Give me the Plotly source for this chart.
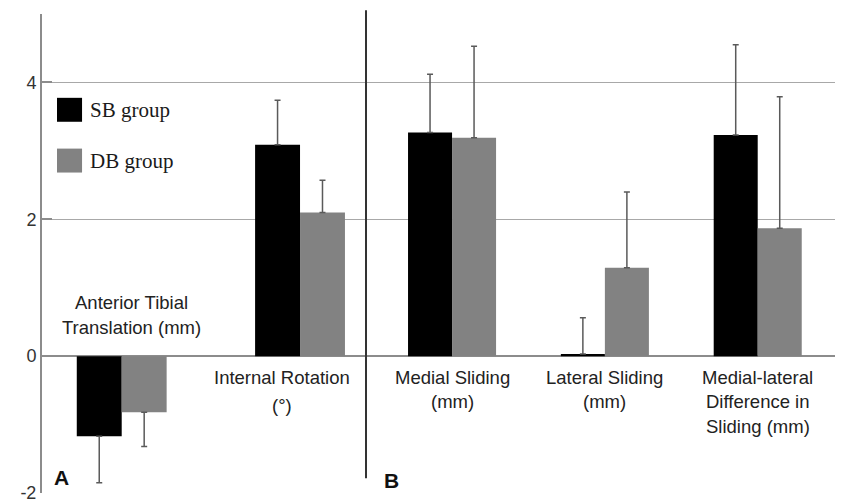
import plotly.graph_objects as go

# ---- data ----
panel_a_categories = ["Anterior Tibial Translation (mm)", "Internal Rotation (°)"]
panel_b_categories = ["Medial Sliding (mm)", "Lateral Sliding (mm)",
                      "Medial-lateral Difference in Sliding (mm)"]
panel_a_lines = [["Anterior Tibial", "Translation (mm)"], ["Internal Rotation", "(°)"]]
panel_b_lines = [["Medial Sliding", "(mm)"], ["Lateral Sliding", "(mm)"],
                 ["Medial-lateral", "Difference in", "Sliding (mm)"]]

series_names = ["SB group", "DB group"]
sb_a = [-1.17, 3.09]
sb_a_err = [0.68, 0.65]
db_a = [-0.82, 2.10]
db_a_err = [0.50, 0.47]
sb_b = [3.27, 0.03, 3.23]
sb_b_err = [0.85, 0.53, 1.32]
db_b = [3.19, 1.29, 1.87]
db_b_err = [1.34, 1.11, 1.92]

y_tick_values = [-2, 0, 2, 4]
panel_letters = ["A", "B"]

# ---- styling ----
SB_COLOR = "#000000"
DB_COLOR = "#828282"
ERR_COLOR = "#5a5a5a"
AXIS_GRAY = "#8c8c8c"
SANS = "Liberation Sans, Arial, sans-serif"
SERIF = "Liberation Serif, Times New Roman, serif"
LABEL_SIZE = 18.5


def one_sided(values, errs):
    up = [e if v >= 0 else 0 for v, e in zip(values, errs)]
    down = [e if v < 0 else 0 for v, e in zip(values, errs)]
    return up, down


fig = go.Figure()


def add_pair(cats, sb, sb_err, db, db_err, xaxis, w):
    for vals, errs, color, name, off in [
        (sb, sb_err, SB_COLOR, series_names[0], -w),
        (db, db_err, DB_COLOR, series_names[1], 0.0),
    ]:
        up, down = one_sided(vals, errs)
        fig.add_trace(go.Bar(
            x=cats, y=vals, name=name, xaxis=xaxis, yaxis="y",
            marker=dict(color=color, line=dict(width=0)),
            width=w, offset=off, showlegend=False,
            error_y=dict(type="data", symmetric=False, array=up, arrayminus=down,
                         color=ERR_COLOR, thickness=1.5, width=3),
        ))


add_pair(panel_a_categories, sb_a, sb_a_err, db_a, db_a_err, "x", 0.252)
add_pair(panel_b_categories, sb_b, sb_b_err, db_b, db_b_err, "x2", 0.288)

SPLIT = 0.4045
Y_RANGE = [min(y_tick_values), 5]

fig.update_layout(
    width=835, height=494,
    margin=dict(l=34, r=0, t=6, b=9.2),
    paper_bgcolor="white", plot_bgcolor="white",
    barmode="overlay",
    showlegend=False,
    xaxis=dict(domain=[0, SPLIT], range=[-0.447, 1.370], showticklabels=False,
               showgrid=False, zeroline=False, showline=False, ticks="",
               anchor="y"),
    xaxis2=dict(domain=[SPLIT, 1], range=[-0.563, 2.558], showticklabels=False,
                showgrid=False, zeroline=False, showline=False, ticks="",
                anchor="y"),
    yaxis=dict(range=Y_RANGE, tickvals=y_tick_values,
               ticktext=[str(v) for v in y_tick_values],
               tickfont=dict(family=SANS, size=18, color="#333333"),
               ticklabeloverflow="allow",
               showgrid=True, gridcolor="#a8a8a8", gridwidth=1,
               zeroline=True, zerolinecolor=AXIS_GRAY, zerolinewidth=2,
               showline=True, linecolor=AXIS_GRAY, linewidth=2,
               ticks="inside", ticklen=10, tickcolor=AXIS_GRAY, tickwidth=2,
               anchor="x"),
    # helper axis only to show the small inside tick at the bottom end
    yaxis2=dict(overlaying="y", anchor="x", side="left",
                range=[Y_RANGE[0] - 0.025, Y_RANGE[1]], tickvals=[Y_RANGE[0]],
                showticklabels=False, showgrid=False, zeroline=False,
                showline=False, ticks="inside", ticklen=10,
                tickcolor=AXIS_GRAY, tickwidth=2),
)

annotations = []
label_font = dict(family=SANS, size=LABEL_SIZE, color="#222222")
# category labels
for i, lines in enumerate(panel_a_lines):
    if i == 0:
        n = len(lines)
        for j, line in enumerate(lines):
            annotations.append(dict(x=panel_a_categories[i], y=0, xref="x", yref="y",
                                    text=line, showarrow=False, xshift=10,
                                    yshift=29 + (n - 1 - j) * 25,
                                    yanchor="middle", font=label_font))
    else:
        for j, line in enumerate(lines):
            annotations.append(dict(x=panel_a_categories[i], y=0, xref="x", yref="y",
                                    text=line, showarrow=False, xshift=-18,
                                    yshift=-21 - j * 28, yanchor="middle",
                                    font=label_font))
for i, lines in enumerate(panel_b_lines):
    for j, line in enumerate(lines):
        annotations.append(dict(x=panel_b_categories[i], y=0, xref="x2", yref="y",
                                text=line, showarrow=False,
                                yshift=-21 - j * 24.5, yanchor="middle",
                                font=label_font))

# panel letters
annotations.append(dict(x=0.0125, y=0.033, xref="paper", yref="paper", text=panel_letters[0],
                        showarrow=False, xanchor="left", yanchor="middle",
                        font=dict(family=SANS, size=21, color="#111111", weight="bold")))
annotations.append(dict(x=0.4245, y=0.027, xref="paper", yref="paper", text=panel_letters[1],
                        showarrow=False, xanchor="left", yanchor="middle",
                        font=dict(family=SANS, size=21, color="#111111", weight="bold")))

# legend
legend_y = [0.8, 0.694]
legend_colors = [SB_COLOR, DB_COLOR]
shapes = []
for name, yy, col in zip(series_names, legend_y, legend_colors):
    annotations.append(dict(x=0.058, y=yy, xref="paper", yref="paper", text=name,
                            showarrow=False, xanchor="left", yanchor="middle",
                            font=dict(family=SERIF, size=21, color="#1a1a1a")))
    shapes.append(dict(type="rect", xref="paper", yref="paper",
                       x0=0.0187, x1=0.05, y0=yy - 0.025, y1=yy + 0.025,
                       fillcolor=col, line=dict(width=0)))

# divider line between panels
shapes.append(dict(type="line", xref="paper", yref="paper", x0=SPLIT, x1=SPLIT,
                   y0=0.031, y1=1.008, line=dict(color="#333333", width=2)))

fig.update_layout(annotations=annotations, shapes=shapes)

fig.write_html("out.html")
